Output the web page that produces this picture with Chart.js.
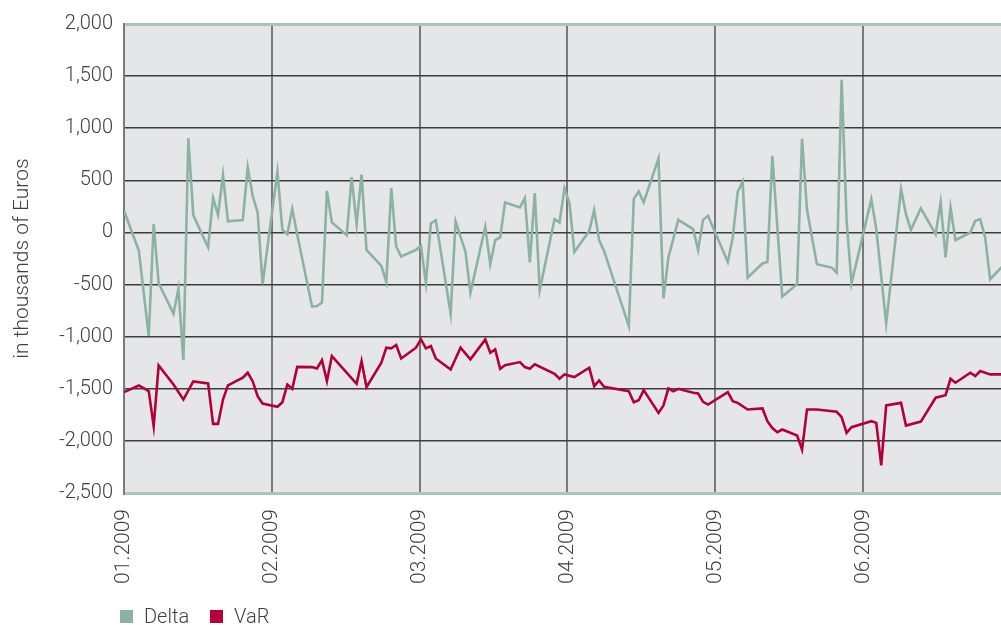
<!DOCTYPE html>
<html>
<head>
<meta charset="utf-8">
<script src="https://cdn.jsdelivr.net/npm/chart.js@4/dist/chart.umd.min.js"></script>
<style>
  html, body { margin: 0; padding: 0; background: #ffffff; }
  #wrap { position: relative; width: 1001px; height: 625px; overflow: hidden; }
  #legend { position: absolute; left: 120px; top: 604px; display: flex; align-items: center;
            font-family: Roboto, "Liberation Sans", sans-serif; font-weight: 300; font-size: 20px; color: #404040; }
  .item { display: flex; align-items: center; margin-right: 21px; }
  .box { width: 13px; height: 13px; margin-right: 11px; }
</style>
</head>
<body>
<div id="wrap">
  <canvas id="chart" width="1001" height="625"></canvas>
  <div id="legend"></div>
</div>
<script>
// ---- data (2009, trading days) ----
const deltaDates = [
  '01-02','01-05','01-07','01-08','01-09','01-12','01-13','01-14','01-15','01-16','01-19','01-20','01-21','01-22','01-23','01-26','01-27','01-28','01-29','01-30',
  '02-02','02-03','02-04','02-05','02-06','02-09','02-10','02-11','02-12','02-13','02-16','02-17','02-18','02-19','02-20','02-23','02-24','02-25','02-26','02-27',
  '03-02','03-03','03-04','03-05','03-06','03-09','03-10','03-12','03-13','03-16','03-17','03-18','03-19','03-20','03-23','03-24','03-25','03-26','03-27','03-30','03-31',
  '04-01','04-02','04-03','04-06','04-07','04-08','04-09','04-14','04-15','04-16','04-17','04-20','04-21','04-22','04-24','04-27','04-28','04-29','04-30',
  '05-04','05-05','05-06','05-07','05-08','05-11','05-12','05-13','05-15','05-18','05-19','05-20','05-22','05-25','05-26','05-27','05-28','05-29',
  '06-02','06-03','06-05','06-08','06-09','06-10','06-12','06-15','06-16','06-17','06-18','06-19','06-22','06-23','06-24','06-25','06-26','06-29'
];
const deltaValues = [
  208,-177,-994,80,-487,-779,-539,-1225,904,166,-144,330,169,551,106,118,625,352,192,-497,
  583,25,-16,224,-20,-712,-706,-673,400,96,-26,529,80,554,-167,-321,-475,426,-135,-231,
  -167,-129,-487,87,118,-779,106,-187,-577,54,-305,-74,-48,288,240,330,-288,378,-552,128,96,
  423,282,-187,15,214,-74,-177,-898,320,394,288,711,-632,-240,121,32,-167,121,160,
  -283,-48,390,486,-433,-298,-283,736,-615,-497,897,217,-305,-337,-385,1464,112,-487,
  320,32,-875,416,176,25,231,-16,288,-240,240,-74,0,112,128,-48,-449,-300
];
const varDates = [
  '01-02','01-05','01-07','01-08','01-09','01-12','01-14','01-16','01-19','01-20','01-21','01-22','01-23','01-26','01-27','01-28','01-29','01-30',
  '02-02','02-03','02-04','02-05','02-06','02-09','02-10','02-11','02-12','02-13','02-18','02-19','02-20','02-23','02-24','02-25','02-26','02-27',
  '03-02','03-03','03-04','03-05','03-06','03-09','03-11','03-13','03-16','03-17','03-18','03-19','03-20','03-23','03-24','03-25','03-26','03-30','03-31',
  '04-01','04-03','04-06','04-07','04-08','04-09','04-14','04-15','04-16','04-17','04-20','04-21','04-22','04-23','04-24','04-27','04-28','04-29','04-30',
  '05-04','05-05','05-06','05-08','05-11','05-12','05-13','05-14','05-15','05-18','05-19','05-20','05-22','05-26','05-27','05-28','05-29',
  '06-02','06-03','06-04','06-05','06-08','06-09','06-12','06-15','06-17','06-18','06-19','06-22','06-23','06-24','06-26','06-29'
];
const varValues = [
  -1532,-1468,-1523,-1860,-1276,-1459,-1603,-1430,-1449,-1837,-1837,-1603,-1468,-1394,-1346,-1427,-1571,-1641,
  -1673,-1629,-1459,-1500,-1290,-1292,-1305,-1225,-1427,-1186,-1452,-1235,-1484,-1250,-1106,-1112,-1080,-1209,
  -1106,-1026,-1112,-1090,-1209,-1315,-1106,-1218,-1026,-1154,-1122,-1308,-1273,-1244,-1292,-1308,-1266,-1356,-1404,
  -1362,-1388,-1298,-1475,-1420,-1481,-1523,-1629,-1610,-1513,-1731,-1660,-1497,-1523,-1500,-1538,-1545,-1625,-1651,
  -1532,-1619,-1635,-1699,-1689,-1811,-1877,-1917,-1891,-1949,-2083,-1699,-1699,-1721,-1773,-1923,-1869,
  -1811,-1827,-2234,-1660,-1635,-1853,-1815,-1586,-1561,-1404,-1442,-1346,-1378,-1330,-1362,-1362
];
const seriesNames = ['Delta', 'VaR'];
const monthTickDays = [2, 31.9, 61.8, 91.6, 121.5, 151.4];
const monthLabels = ['01.2009', '02.2009', '03.2009', '04.2009', '05.2009', '06.2009'];
const yMin = -2500, yMax = 2000, yStep = 500;
const yTitle = 'in thousands of Euros';

// ---- helpers ----
const YEAR = 2009;
function dayOfYear(md) {
  const [m, d] = md.split('-').map(Number);
  return (Date.UTC(YEAR, m - 1, d) - Date.UTC(YEAR, 0, 1)) / 864e5 + 1;
}
const toPoints = (dates, vals) => dates.map((md, i) => ({ x: dayOfYear(md), y: vals[i] }));

const COLORS = { delta: '#8cb2a1', var: '#b4003a', text: '#404040', plot: '#e5e6e8',
                 hgrid: '#3c3c3c', vgrid: '#7a7a7a', frame: '#a9c5b8' };
const FONT = { family: 'Roboto, "Liberation Sans", sans-serif', size: 20, weight: 300 };
const XFONT = { family: 'Roboto, "Liberation Sans", sans-serif', size: 21, weight: 300 };

const plotBg = {
  id: 'plotBg',
  beforeDraw(chart) {
    const { ctx, chartArea: a } = chart;
    ctx.save();
    ctx.fillStyle = COLORS.plot;
    ctx.fillRect(a.left, a.top, a.right - a.left, a.bottom - a.top);
    ctx.restore();
  }
};

const chart = new Chart(document.getElementById('chart'), {
  type: 'line',
  data: {
    datasets: [
      { label: seriesNames[0], data: toPoints(deltaDates, deltaValues), borderColor: COLORS.delta,
        backgroundColor: COLORS.delta, borderWidth: 2.6, pointRadius: 0, tension: 0, order: 2 },
      { label: seriesNames[1], data: toPoints(varDates, varValues), borderColor: COLORS.var,
        backgroundColor: COLORS.var, borderWidth: 2.6, pointRadius: 0, tension: 0, order: 1 }
    ]
  },
  options: {
    responsive: false,
    animation: false,
    devicePixelRatio: 1,
    layout: { padding: { top: 24, right: 0, bottom: 0, left: 0 } },
    plugins: { legend: { display: false }, tooltip: { enabled: false } },
    scales: {
      x: {
        type: 'linear',
        min: 2,
        max: 179.2,
        afterBuildTicks: (s) => { s.ticks = monthTickDays.map(v => ({ value: v })); },
        afterFit: (s) => { s.height = 132; },
        ticks: {
          autoSkip: false, minRotation: 90, maxRotation: 90, padding: 16,
          color: COLORS.text, font: XFONT,
          callback: (v, i) => monthLabels[i]
        },
        grid: { color: COLORS.vgrid, lineWidth: 2, drawTicks: false, tickLength: 0 },
        border: { color: COLORS.frame, width: 3 }
      },
      y: {
        min: yMin, max: yMax,
        afterFit: (s) => { s.width = 124; },
        ticks: {
          stepSize: yStep, padding: 11, color: COLORS.text, font: FONT,
          callback: (v) => v.toLocaleString('en-US')
        },
        grid: {
          drawTicks: false, tickLength: 0,
          color: (c) => (c.tick && (c.tick.value === yMax || c.tick.value === yMin)) ? COLORS.frame : COLORS.hgrid,
          lineWidth: (c) => (c.tick && (c.tick.value === yMax || c.tick.value === yMin)) ? 3 : 1.5
        },
        border: { color: COLORS.vgrid, width: 2 },
        title: { display: true, text: yTitle, color: COLORS.text, font: XFONT, padding: { top: 10, bottom: 0 } }
      }
    }
  },
  plugins: [plotBg]
});

// HTML legend built from the chart datasets
const legendEl = document.getElementById('legend');
chart.data.datasets.forEach(ds => {
  const item = document.createElement('div');
  item.className = 'item';
  const box = document.createElement('span');
  box.className = 'box';
  box.style.background = ds.borderColor;
  const label = document.createElement('span');
  label.textContent = ds.label;
  item.appendChild(box);
  item.appendChild(label);
  legendEl.appendChild(item);
});
</script>
</body>
</html>
